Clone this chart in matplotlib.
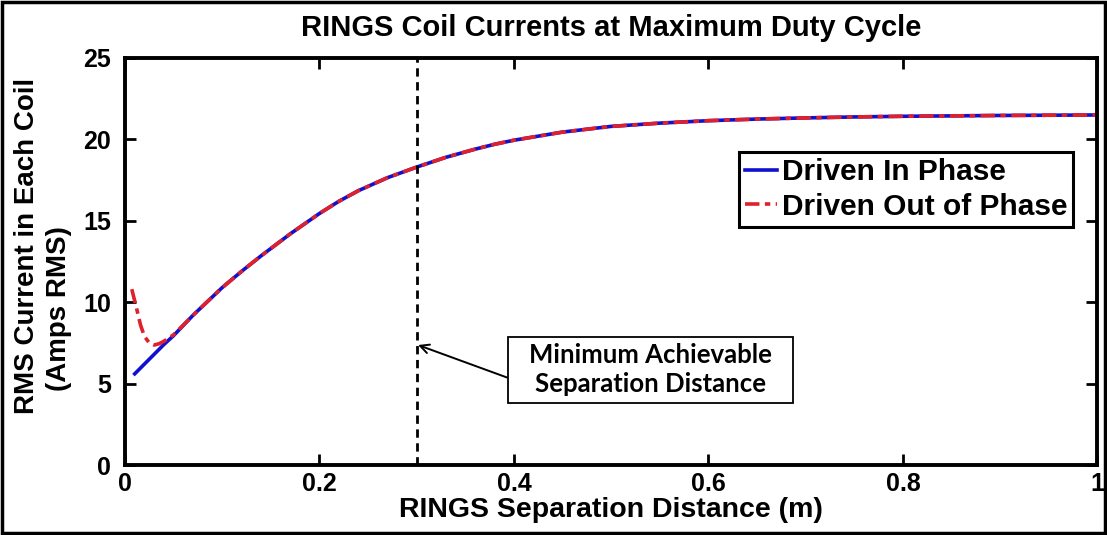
import numpy as np
import matplotlib.pyplot as plt
from matplotlib.patches import Rectangle

# separation distance (m) and RMS coil current (A)
dist_in = [0.01, 0.02, 0.03, 0.04, 0.05, 0.07, 0.10, 0.12, 0.14, 0.17, 0.20, 0.22,
           0.24, 0.27, 0.30, 0.33, 0.36, 0.38, 0.40, 0.45, 0.50, 0.55, 0.60, 0.65,
           0.70, 0.75, 0.80, 0.90, 1.00]
cur_in = [5.6, 6.2, 6.8, 7.4, 7.95, 9.2, 10.9, 11.9, 12.85, 14.2, 15.45, 16.2,
          16.85, 17.65, 18.3, 18.9, 19.4, 19.7, 19.95, 20.45, 20.8, 21.0, 21.15, 21.25,
          21.32, 21.38, 21.42, 21.47, 21.5]

dist_out = [0.007, 0.012, 0.016, 0.02, 0.025, 0.03, 0.035, 0.04, 0.045, 0.05, 0.07, 0.10,
            0.12, 0.14, 0.17, 0.20, 0.22, 0.24, 0.27, 0.30, 0.33, 0.36, 0.38, 0.40,
            0.45, 0.50, 0.55, 0.60, 0.65, 0.70, 0.75, 0.80, 0.90, 1.00]
cur_out = [10.8, 9.6, 8.6, 7.9, 7.5, 7.37, 7.45, 7.6, 7.8, 8.0, 9.2, 10.9,
           11.9, 12.85, 14.2, 15.45, 16.2, 16.85, 17.65, 18.3, 18.9, 19.4, 19.7, 19.95,
           20.45, 20.8, 21.0, 21.15, 21.25, 21.32, 21.38, 21.42, 21.47, 21.5]

min_sep = 0.3
x_ticks = [0, 0.2, 0.4, 0.6, 0.8, 1]
x_tick_labels = ['0', '0.2', '0.4', '0.6', '0.8', '1']
y_ticks = [0, 5, 10, 15, 20, 25]

plt.rcParams['font.family'] = ['Liberation Sans', 'DejaVu Sans']
plt.rcParams['font.weight'] = 'bold'

fig = plt.figure(figsize=(11.07, 5.35), dpi=100)
ax = fig.add_axes([0.1129, 0.1308, 0.8785, 0.7608])

ax.plot(dist_in, cur_in, color='#1010d0', lw=2.6, label='Driven In Phase')
ax.plot(dist_out, cur_out, color='#e0202a', lw=2.6, ls='-.', dashes=(4, 1.5, 1.5, 1.5),
        label='Driven Out of Phase')
ax.plot([min_sep, min_sep], [0, 25], color='black', lw=2, ls='--', dashes=(3, 2))

ax.set_xlim(0, 1)
ax.set_ylim(0, 25)
ax.set_xticks(x_ticks)
ax.set_xticklabels(x_tick_labels)
ax.set_yticks(y_ticks)
ax.tick_params(direction='in', length=8, width=2, labelsize=18, top=True, right=True)
ax.tick_params(axis='x', pad=5)
ax.tick_params(axis='y', pad=10)
for s in ax.spines.values():
    s.set_linewidth(2.8)

ax.set_title('RINGS Coil Currents at Maximum Duty Cycle', fontsize=21, fontweight='bold', pad=16)
ax.set_xlabel('RINGS Separation Distance (m)', fontsize=20.5, fontweight='bold', labelpad=1)

# two-line y label, second line sits a little lower than the first
fig.text(0.0244, 0.540, 'RMS Current in Each Coil', rotation=90, fontsize=20,
         fontweight='bold', ha='center', va='center')
fig.text(0.0535, 0.424, '(Amps RMS)', rotation=90, fontsize=20,
         fontweight='bold', ha='center', va='center')

leg = ax.legend(loc='upper left', bbox_to_anchor=(0.631, 0.769), borderaxespad=0,
                fontsize=21.5, handlelength=1.1, handletextpad=0.15, labelspacing=0.22,
                borderpad=0.2, fancybox=False, framealpha=1, edgecolor='black')
leg.get_frame().set_linewidth(2.2)

# callout box for the minimum separation line
ax.add_patch(Rectangle((0.394, 3.81), 0.293, 4.05, fc='white', ec='black', lw=1.3, zorder=4))
ax.text(0.54, 5.84, 'Minimum Achievable\nSeparation Distance', fontsize=18.5, fontweight='bold',
        family=['Lato', 'DejaVu Sans'], ha='center', va='center', linespacing=1.25, zorder=5)
ax.annotate('', xy=(min_sep, 7.4), xytext=(0.394, 5.35),
            arrowprops=dict(arrowstyle='->', color='black', lw=1.4, mutation_scale=16,
                            shrinkA=0, shrinkB=1))

fig.patches.append(Rectangle((0.002, 0.004), 0.996, 0.992, transform=fig.transFigure,
                             fill=False, ec='black', lw=2.5))

fig.savefig('out.png', dpi=100)
